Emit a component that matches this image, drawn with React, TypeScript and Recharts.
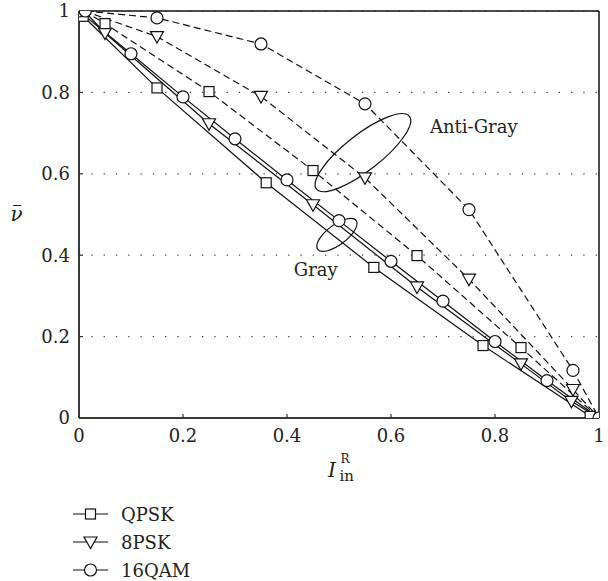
import React from 'react';
import { LineChart, Line, XAxis, YAxis, CartesianGrid, ReferenceLine, ReferenceDot, Legend } from 'recharts';

// ---- data ----
const axisTicks = [0, 0.2, 0.4, 0.6, 0.8, 1];
const modulations = ['QPSK', '8PSK', '16QAM'];

const qpskGrayX = [0.008, 0.15, 0.36, 0.567, 0.777, 0.983];
const qpskGrayY = [0.987, 0.811, 0.578, 0.37, 0.178, 0.004];
const psk8GrayX = [0.01, 0.05, 0.25, 0.45, 0.65, 0.85, 0.947, 1.0];
const psk8GrayY = [1.0, 0.946, 0.723, 0.524, 0.322, 0.133, 0.041, 0.0];
const qam16GrayX = [0, 0.1, 0.2, 0.3, 0.4, 0.5, 0.6, 0.7, 0.8, 0.9, 1.0];
const qam16GrayY = [1.0, 0.895, 0.789, 0.686, 0.585, 0.485, 0.385, 0.287, 0.188, 0.092, 0.0];

const qpskAntiX = [0.01, 0.05, 0.25, 0.45, 0.65, 0.85, 1.0];
const qpskAntiY = [1.0, 0.969, 0.802, 0.608, 0.399, 0.173, 0.0];
const psk8AntiX = [0.01, 0.15, 0.35, 0.55, 0.75, 0.95, 1.0];
const psk8AntiY = [1.0, 0.937, 0.79, 0.59, 0.341, 0.07, 0.0];
const qam16AntiX = [0.012, 0.15, 0.35, 0.55, 0.75, 0.95, 1.0];
const qam16AntiY = [1.0, 0.983, 0.919, 0.772, 0.512, 0.117, 0.0];

const annotations = [
  { name: 'Anti-Gray', ex: 0.546, ey: 0.652, rx: 59, ry: 18, rot: -38, tx: 0.675, ty: 0.7 },
  { name: 'Gray', ex: 0.496, ey: 0.45, rx: 24, ry: 10, rot: -37, tx: 0.413, ty: 0.35 },
];

const zip = (xs: number[], ys: number[]) => xs.map((x, i) => ({ x, y: ys[i] }));

const FONT = "'DejaVu Serif', 'Liberation Serif', serif";
const INK = '#111';

type Shape = 'square' | 'triangle' | 'circle';

function Marker({ cx, cy, shape }: { cx: number; cy: number; shape: Shape }) {
  const common = { fill: '#fff', stroke: INK, strokeWidth: 1.2 };
  if (shape === 'square') return <rect x={cx - 5} y={cy - 5} width={10} height={10} {...common} />;
  if (shape === 'triangle')
    return <polygon points={`${cx - 6.5},${cy - 5} ${cx + 6.5},${cy - 5} ${cx},${cy + 6.5}`} {...common} />;
  return <circle cx={cx} cy={cy} r={6} {...common} />;
}

const makeDot = (shape: Shape, skipFirst: boolean, skipLast: boolean, n: number) => (props: any) => {
  const { cx, cy, index } = props;
  const key = `d-${shape}-${index}-${skipFirst}`;
  if ((skipFirst && index === 0) || (skipLast && index === n - 1) || cx == null) return <g key={key} />;
  return (
    <g key={key}>
      <Marker cx={cx} cy={cy} shape={shape} />
    </g>
  );
};

const series = [
  { id: 'qg', data: zip(qpskGrayX, qpskGrayY), shape: 'square' as Shape, dashed: false, sf: false, sl: false },
  { id: 'pg', data: zip(psk8GrayX, psk8GrayY), shape: 'triangle' as Shape, dashed: false, sf: true, sl: true },
  { id: 'mg', data: zip(qam16GrayX, qam16GrayY), shape: 'circle' as Shape, dashed: false, sf: false, sl: false },
  { id: 'qa', data: zip(qpskAntiX, qpskAntiY), shape: 'square' as Shape, dashed: true, sf: true, sl: true },
  { id: 'pa', data: zip(psk8AntiX, psk8AntiY), shape: 'triangle' as Shape, dashed: true, sf: true, sl: true },
  { id: 'ma', data: zip(qam16AntiX, qam16AntiY), shape: 'circle' as Shape, dashed: true, sf: false, sl: true },
];

const legendShapes: Shape[] = ['square', 'triangle', 'circle'];

function LegendContent() {
  return (
    <svg width={200} height={86} style={{ display: 'block' }}>
      {modulations.map((m, i) => {
        const cy = 16 + i * 28;
        return (
          <g key={m}>
            <line x1={13} x2={48} y1={cy} y2={cy} stroke={INK} strokeWidth={1.2} />
            <Marker cx={30.5} cy={cy} shape={legendShapes[i]} />
            <text x={61} y={cy + 6.5} fontFamily={FONT} fontSize={18} fill="#222">
              {m}
            </text>
          </g>
        );
      })}
    </svg>
  );
}

function XTitle(props: any) {
  const vb = props.viewBox || {};
  const cx = vb.x + vb.width / 2;
  const by = vb.y + 59;
  return (
    <text x={cx - 11} y={by} fontFamily={FONT} fill="#222" fontSize={20}>
      <tspan fontStyle="italic">I</tspan>
      <tspan x={cx + 0.5} dy={4} fontSize={15}>in</tspan>
      <tspan x={cx + 1.5} dy={-18} fontSize={12}>R</tspan>
    </text>
  );
}

function YTitle(props: any) {
  const vb = props.viewBox || {};
  const mid = vb.y + vb.height / 2;
  return (
    <g fontFamily={FONT} fill="#222">
      <text x={16.5} y={mid + 6} fontSize={20} fontStyle="italic" textAnchor="middle">ν</text>
      <line x1={13} x2={21} y1={mid - 9} y2={mid - 9} stroke="#222" strokeWidth={1} />
    </g>
  );
}

const fmt = (v: number) => (v === 0 ? '0' : v === 1 ? '1' : String(v));

export default function App() {
  return (
    <div style={{ position: 'absolute', left: 0, top: 0, background: '#fff' }}>
      <LineChart width={608} height={581} margin={{ top: 11, right: 9, bottom: 0, left: 0 }}>
        <CartesianGrid vertical={false} stroke="#444" strokeDasharray="1.3 11" strokeWidth={1.2} />
        <XAxis
          type="number"
          dataKey="x"
          domain={[0, 1]}
          ticks={axisTicks}
          tickFormatter={fmt}
          height={163}
          tickSize={-4}
          tickMargin={15.5}
          axisLine={{ stroke: '#3a3a3a', strokeWidth: 2 }}
          tickLine={{ stroke: '#333', strokeWidth: 1.2 }}
          tick={{ fontFamily: FONT, fontSize: 18, fill: '#222' }}
          allowDataOverflow
          label={<XTitle />}
        />
        <YAxis
          type="number"
          dataKey="y"
          domain={[0, 1]}
          ticks={axisTicks}
          tickFormatter={fmt}
          width={79}
          tickSize={-4}
          tickMargin={13}
          axisLine={{ stroke: '#3a3a3a', strokeWidth: 2 }}
          tickLine={{ stroke: '#333', strokeWidth: 1.2 }}
          tick={{ fontFamily: FONT, fontSize: 18, fill: '#222' }}
          allowDataOverflow
          label={<YTitle />}
        />
        <ReferenceLine y={1} stroke={INK} strokeWidth={1.5} />
        <ReferenceLine x={1} stroke={INK} strokeWidth={1.5} />
        {series.map((s) => (
          <Line
            key={s.id}
            data={s.data}
            dataKey="y"
            type="linear"
            stroke={INK}
            strokeWidth={1.2}
            strokeDasharray={s.dashed ? '7 4' : undefined}
            dot={makeDot(s.shape, s.sf, s.sl, s.data.length)}
            activeDot={false}
            legendType="none"
            isAnimationActive={false}
          />
        ))}
        {annotations.map((a) => (
          <ReferenceDot
            key={a.name + '-e'}
            x={a.ex}
            y={a.ey}
            shape={(p: any) => (
              <ellipse
                cx={p.cx}
                cy={p.cy}
                rx={a.rx}
                ry={a.ry}
                transform={`rotate(${a.rot} ${p.cx} ${p.cy})`}
                fill="none"
                stroke={INK}
                strokeWidth={1.2}
              />
            )}
          />
        ))}
        {annotations.map((a) => (
          <ReferenceDot
            key={a.name + '-t'}
            x={a.tx}
            y={a.ty}
            shape={(p: any) => (
              <text x={p.cx} y={p.cy} fontFamily={FONT} fontSize={18} fill="#222">
                {a.name}
              </text>
            )}
          />
        ))}
        <Legend
          layout="horizontal"
          verticalAlign="middle"
          align="center"
          content={<LegendContent />}
          wrapperStyle={{ left: 60, top: 498, width: 200, height: 86 }}
        />
      </LineChart>
    </div>
  );
}
